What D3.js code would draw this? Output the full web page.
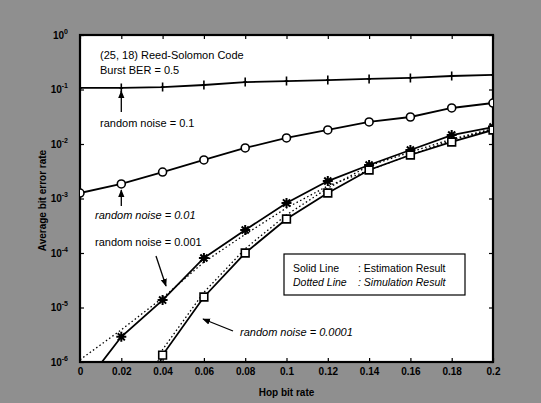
<!DOCTYPE html>
<html>
<head>
<meta charset="utf-8">
<script src="https://cdn.jsdelivr.net/npm/d3@7"></script>
<style>
  html, body { margin: 0; padding: 0; background: #fff; }
  svg { display: block; }
</style>
</head>
<body>
<div id="chart"></div>
<script>
(function () {

  'use strict';

  const FONT_FAMILY = 'Liberation Sans, Arial, sans-serif';
  const WIDTH = 541;
  const HEIGHT = 403;

  // Hop bit rate (x axis).
  const xValues = [0, 0.02, 0.04, 0.06, 0.08, 0.1, 0.12, 0.14, 0.16, 0.18, 0.2];
  const xTickLabels = ['0', '0.02', '0.04', '0.06', '0.08', '0.1', '0.12', '0.14', '0.16', '0.18', '0.2'];
  const yTickValues = [1e-6, 1e-5, 1e-4, 1e-3, 1e-2, 1e-1, 1];
  const yTickExponents = ['-6', '-5', '-4', '-3', '-2', '-1', '0'];

  // Estimation results (solid lines).
  const noise01 = [0.107, 0.107, 0.111, 0.121, 0.137, 0.143, 0.149, 0.156, 0.163, 0.177, 0.185];
  const noise001 = [1.26e-3, 1.85e-3, 3.06e-3, 5.09e-3, 8.45e-3, 0.0129, 0.0181, 0.0254, 0.0313, 0.0458, 0.0565];
  const noise0001 = [3e-7, 2.9e-6, 1.37e-5, 8.1e-5, 2.64e-4, 8.3e-4, 2.09e-3, 4.12e-3, 7.76e-3, 0.0146, 0.0205];
  const noise00001 = [1e-10, 1e-8, 1.34e-6, 1.56e-5, 1.0e-4, 4.2e-4, 1.26e-3, 3.33e-3, 6.28e-3, 0.0109, 0.0181];

  // Simulation results (dotted lines).
  const noise0001Sim = [1.1e-6, 3.9e-6, 1.5e-5, 6.8e-5, 2.2e-4, 6.7e-4, 1.7e-3, 3.3e-3, 6.3e-3, 0.0118, 0.019];
  const noise00001Sim = [1e-10, 2e-8, 1.7e-6, 1.9e-5, 1.2e-4, 5.0e-4, 1.55e-3, 4.0e-3, 7.1e-3, 0.0123, 0.019];

  let margin = {top: 35, right: 48, bottom: 41, left: 80};

  let svg = d3.select('#chart')
    .append('svg')
    .attr('width', WIDTH)
    .attr('height', HEIGHT)
    .style('font-family', FONT_FAMILY);

  // Scanned grey background.
  svg.append('rect')
    .attr('width', WIDTH)
    .attr('height', HEIGHT)
    .attr('fill', '#8f8f8f');

  let x = d3.scaleLinear()
    .domain([0, 0.2])
    .range([margin.left, WIDTH - margin.right]);

  let y = d3.scaleLog()
    .domain([1e-6, 1])
    .range([HEIGHT - margin.bottom, margin.top]);

  svg.append('defs')
    .append('clipPath')
    .attr('id', 'plot-clip')
    .append('rect')
    .attr('x', x(0))
    .attr('y', y(1))
    .attr('width', x(0.2) - x(0))
    .attr('height', y(1e-6) - y(1));

  // White plot area.
  svg.append('rect')
    .attr('x', x(0))
    .attr('y', y(1))
    .attr('width', x(0.2) - x(0))
    .attr('height', y(1e-6) - y(1))
    .attr('fill', '#fff');

  // Axes, ticks pointing inward.
  let xAxis = svg.append('g')
    .attr('transform', 'translate(0,' + y(1e-6) + ')')
    .call(d3.axisBottom(x).tickValues(xValues).tickSize(-4).tickPadding(6)
      .tickFormat(function (d, i) { return xTickLabels[i]; }));

  svg.append('g')
    .attr('transform', 'translate(0,' + y(1) + ')')
    .call(d3.axisTop(x).tickValues(xValues).tickSize(-4).tickFormat(''));

  let yAxis = svg.append('g')
    .attr('transform', 'translate(' + x(0) + ',0)')
    .call(d3.axisLeft(y).tickValues(yTickValues).tickSize(-4).tickPadding(6)
      .tickFormat(''));

  svg.append('g')
    .attr('transform', 'translate(' + x(0.2) + ',0)')
    .call(d3.axisRight(y).tickValues(yTickValues).tickSize(-4).tickFormat(''));

  svg.selectAll('.domain').remove();
  svg.selectAll('.tick line').attr('stroke', '#000').attr('stroke-width', 1.2);

  xAxis.selectAll('.tick text')
    .attr('fill', '#000')
    .style('font-size', '10px')
    .style('font-weight', 'bold');

  // Y tick labels as 10 with a superscript exponent.
  yAxis.selectAll('.tick text')
    .attr('fill', '#000')
    .style('font-size', '10px')
    .style('font-weight', 'bold')
    .attr('dx', '-6')
    .each(function (d, i) {
      let t = d3.select(this);
      t.text('10');
      t.append('tspan')
        .attr('dy', '-5')
        .style('font-size', '7px')
        .text(yTickExponents[i]);
    });

  // Frame.
  svg.append('rect')
    .attr('x', x(0))
    .attr('y', y(1))
    .attr('width', x(0.2) - x(0))
    .attr('height', y(1e-6) - y(1))
    .attr('fill', 'none')
    .attr('stroke', '#000')
    .attr('stroke-width', 2.2);

  // Axis titles.
  svg.append('text')
    .attr('transform', 'translate(46,' + ((y(1) + y(1e-6)) / 2 + 2) + ') rotate(-90)')
    .attr('text-anchor', 'middle')
    .style('font-size', '10px')
    .style('font-weight', 'bold')
    .text('Average bit error rate');

  svg.append('text')
    .attr('x', (x(0) + x(0.2)) / 2)
    .attr('y', 396)
    .attr('text-anchor', 'middle')
    .style('font-size', '10px')
    .style('font-weight', 'bold')
    .text('Hop bit rate');

  let plot = svg.append('g').attr('clip-path', 'url(#plot-clip)');

  let line = d3.line()
    .x(function (d, i) { return x(xValues[i]); })
    .y(function (d) { return y(d); });

  // Dotted simulation lines.
  [noise0001Sim, noise00001Sim].forEach(function (series) {
    plot.append('path')
      .datum(series)
      .attr('d', line)
      .attr('fill', 'none')
      .attr('stroke', '#000')
      .attr('stroke-width', 1.3)
      .attr('stroke-dasharray', '1.5,2.5');
  });

  // Solid estimation lines.
  [noise01, noise001, noise0001, noise00001].forEach(function (series) {
    plot.append('path')
      .datum(series)
      .attr('d', line)
      .attr('fill', 'none')
      .attr('stroke', '#000')
      .attr('stroke-width', 1.8);
  });

  // Custom asterisk marker.
  let asterisk = {
    draw: function (context, size) {
      let r = Math.sqrt(size) / 2;
      let c = r * 0.7071;
      context.moveTo(-r, 0); context.lineTo(r, 0);
      context.moveTo(0, -r); context.lineTo(0, r);
      context.moveTo(-c, -c); context.lineTo(c, c);
      context.moveTo(-c, c); context.lineTo(c, -c);
    }
  };
  let plus = {
    draw: function (context, size) {
      let r = Math.sqrt(size) / 2;
      context.moveTo(-r * 0.4, 0); context.lineTo(r * 0.4, 0);
      context.moveTo(0, -r); context.lineTo(0, r);
    }
  };

  let markerSets = [
    {data: noise01, type: plus, size: 80, fill: 'none', width: 1.6},
    {data: noise001, type: d3.symbolCircle, size: 50, fill: '#fff', width: 1.6},
    {data: noise0001, type: asterisk, size: 100, fill: 'none', width: 2},
    {data: noise00001, type: d3.symbolSquare, size: 60, fill: '#fff', width: 1.6}
  ];

  markerSets.forEach(function (m) {
    plot.selectAll(null)
      .data(m.data)
      .enter()
      .append('path')
      .attr('transform', function (d, i) {
        return 'translate(' + x(xValues[i]) + ',' + y(d) + ')';
      })
      .attr('d', d3.symbol().type(m.type).size(m.size))
      .attr('fill', m.fill)
      .attr('stroke', '#000')
      .attr('stroke-width', m.width);
  });

  // Annotations.
  svg.append('defs')
    .append('marker')
    .attr('id', 'arrow')
    .attr('viewBox', '0 0 10 10')
    .attr('refX', 9)
    .attr('refY', 5)
    .attr('markerWidth', 6)
    .attr('markerHeight', 6)
    .attr('orient', 'auto')
    .append('path')
    .attr('d', 'M0,1L10,5L0,9z')
    .attr('fill', '#000');

  let notes = [
    {text: '(25, 18) Reed-Solomon Code', x: 100, y: 59, italic: false},
    {text: 'Burst BER = 0.5', x: 100, y: 74, italic: false},
    {text: 'random noise = 0.1', x: 100, y: 127, italic: false},
    {text: 'random noise = 0.01', x: 95, y: 219, italic: true},
    {text: 'random noise = 0.001', x: 95, y: 246, italic: false},
    {text: 'random noise = 0.0001', x: 240, y: 336, italic: true}
  ];

  svg.selectAll('text.note')
    .data(notes)
    .enter()
    .append('text')
    .attr('class', 'note')
    .attr('x', function (d) { return d.x; })
    .attr('y', function (d) { return d.y; })
    .style('font-size', '11px')
    .style('font-style', function (d) { return d.italic ? 'italic' : 'normal'; })
    .text(function (d) { return d.text; });

  let arrows = [
    [x(0.02), 112, x(0.02), 91],
    [x(0.02), 206, x(0.02), 190],
    [156, 256, 166, 286],
    [233, 331, 203, 319]
  ];

  svg.selectAll('line.arrow')
    .data(arrows)
    .enter()
    .append('line')
    .attr('class', 'arrow')
    .attr('x1', function (d) { return d[0]; })
    .attr('y1', function (d) { return d[1]; })
    .attr('x2', function (d) { return d[2]; })
    .attr('y2', function (d) { return d[3]; })
    .attr('stroke', '#000')
    .attr('stroke-width', 1.3)
    .attr('marker-end', 'url(#arrow)');

  // Legend box.
  let legend = svg.append('g');
  legend.append('rect')
    .attr('x', 284)
    .attr('y', 254)
    .attr('width', 181)
    .attr('height', 41)
    .attr('fill', '#fff')
    .attr('stroke', '#000')
    .attr('stroke-width', 1.2);

  let legendRows = [
    ['Solid Line', ': Estimation Result', 'normal', 272],
    ['Dotted Line', ': Simulation Result', 'italic', 286]
  ];
  legendRows.forEach(function (r) {
    legend.append('text')
      .attr('x', 293)
      .attr('y', r[3])
      .style('font-size', '10.5px')
      .style('font-style', r[2])
      .text(r[0]);
    legend.append('text')
      .attr('x', 358)
      .attr('y', r[3])
      .style('font-size', '10.5px')
      .style('font-style', r[2])
      .text(r[1]);
  });

}());
</script>
</body>
</html>
